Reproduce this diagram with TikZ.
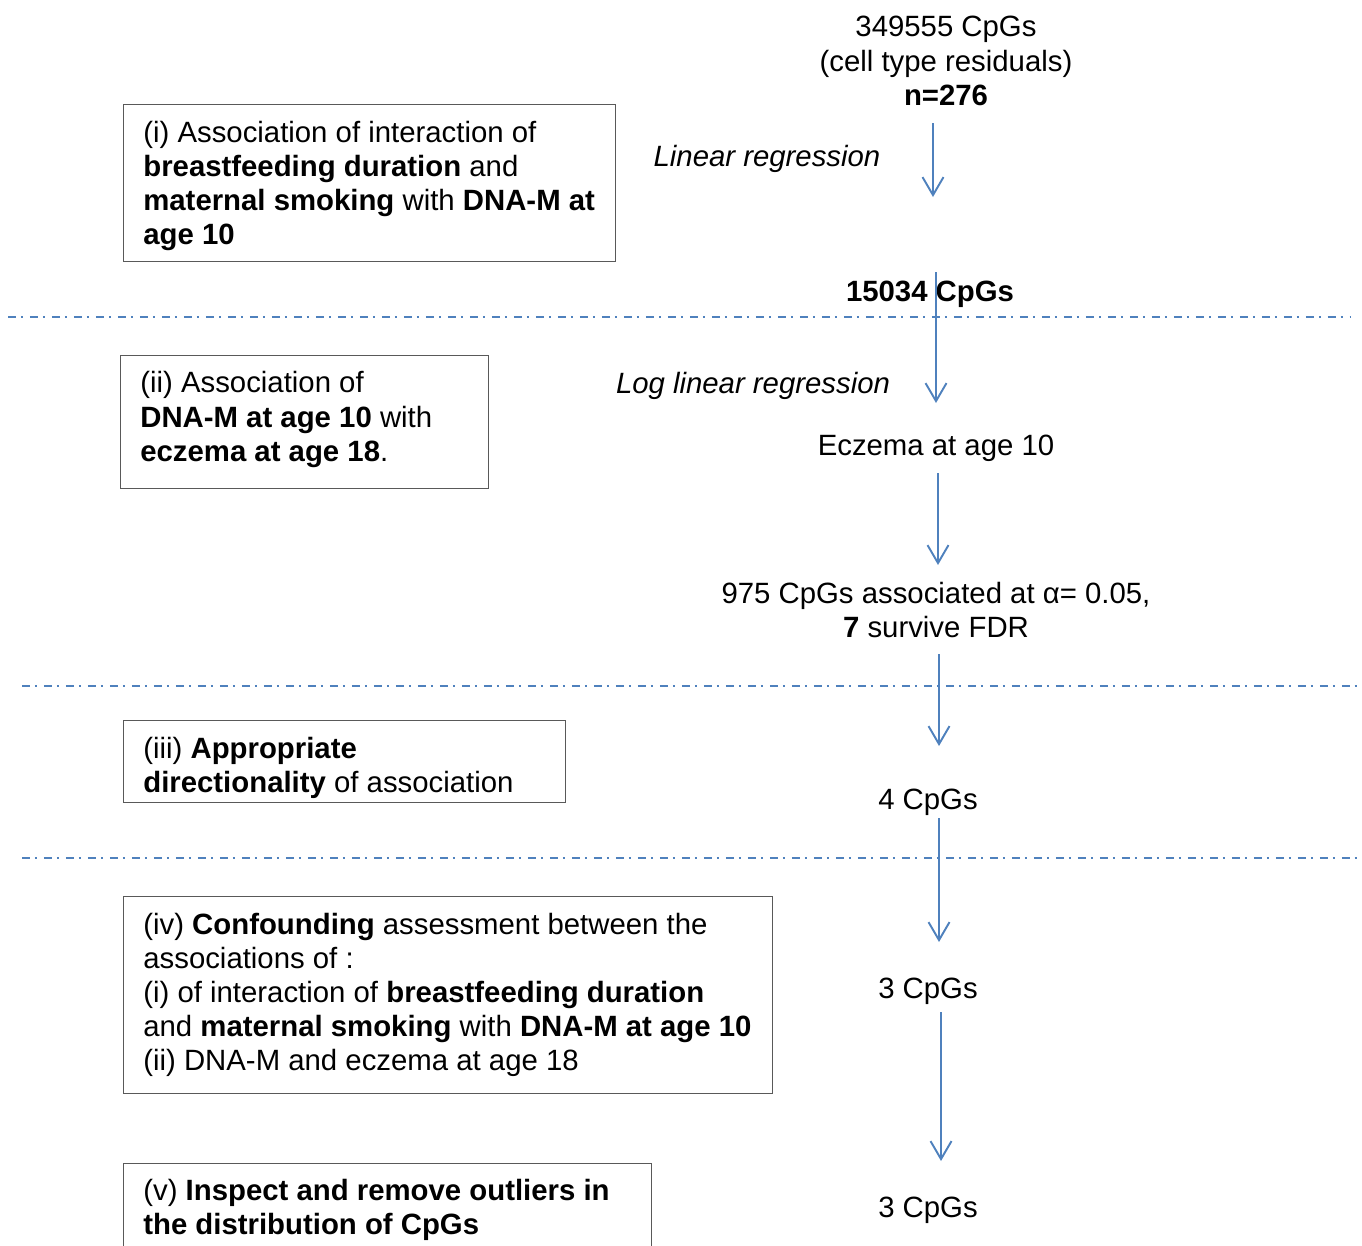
\documentclass[tikz,border=0pt]{standalone}
\usepackage{fontspec}
\setmainfont{Liberation Sans}
\usetikzlibrary{positioning, arrows.meta}

\definecolor{flowblue}{RGB}{79,129,189}
\tikzset{
  flow/.style={draw=flowblue, line width=1.1pt, -{Straight Barb[length=3.6mm, width=4.2mm]}},
  stagesep/.style={draw=flowblue, line width=1pt, dash pattern=on 1.6mm off 1mm on 0.4mm off 1.4mm},
  stagebox/.style={draw=black!65, line width=0.6pt, anchor=north west, inner sep=0pt},
  stagetext/.style={align=left, inner sep=0pt},
  count/.style={align=center, inner sep=0pt},
}

\begin{document}
\begin{tikzpicture}[x=0.02cm, y=-0.02cm, font=\fontsize{16.7}{19.45}\selectfont]
  \clip (0,0) rectangle (1362,1245);

  % stage separators
  \draw[stagesep] (8,317) coordinate (sepa) -- (1350,317) coordinate (sepb);
  \draw[stagesep] (22,686) coordinate (sepc) -- (1362,686) coordinate (sepd);
  \draw[stagesep] (22,858) coordinate (sepe) -- (1362,858) coordinate (sepf);

  % right column: counts
  \node[count] (start) at (946,61) {349555 CpGs\\(cell type residuals)\\\textbf{n=276}};
  \node[count] (linreg) at (767,159) {\textit{Linear regression}};
  \node[count] (cpgsa) at (930,294) {\textbf{15034 CpGs}};
  \node[count] (loglin) at (753,386) {\textit{Log linear regression}};
  \node[count] (eczema) at (936,448) {Eczema at age 10};
  \node[count] (cpgsb) at (936,610) {975 CpGs associated at α= 0.05,\\\textbf{7} survive FDR};
  \node[count] (cpgsc) at (928,802) {4 CpGs};
  \node[count] (cpgsd) at (928,991) {3 CpGs};
  \node[count] (cpgse) at (928,1210) {3 CpGs};

  % arrows
  \coordinate (aa) at (933,123);  \coordinate (ab) at (933,197);
  \coordinate (ac) at (936,272);  \coordinate (ad) at (936,403);
  \coordinate (ae) at (938,473);  \coordinate (af) at (938,565);
  \coordinate (ag) at (939,654);  \coordinate (ah) at (939,746);
  \coordinate (ai) at (939,818);  \coordinate (aj) at (939,942);
  \coordinate (ak) at (941,1012); \coordinate (al) at (941,1161);
  \draw[flow] (aa) -- (ab);
  \draw[flow] (ac) -- (ad);
  \draw[flow] (ae) -- (af);
  \draw[flow] (ag) -- (ah);
  \draw[flow] (ai) -- (aj);
  \draw[flow] (ak) -- (al);

  % left column: stages
  \node[stagebox, minimum width=9.84cm, minimum height=3.14cm] (boxi) at (123,104) {};
  \node[stagetext, right=0.4cm of boxi.west, yshift=-0.06cm] (txti) {(i) Association of interaction of\\\textbf{breastfeeding duration} and\\\textbf{maternal smoking} with \textbf{DNA-M at}\\\textbf{age 10}};

  \node[stagebox, minimum width=7.36cm, minimum height=2.66cm] (boxii) at (120,355) {};
  \node[stagetext, right=0.4cm of boxii.west, yshift=0.05cm] (txtii) {(ii) Association of\\\textbf{DNA-M at age 10} with\\\textbf{eczema at age 18}.};

  \node[stagebox, minimum width=8.84cm, minimum height=1.64cm] (boxiii) at (123,720) {};
  \node[stagetext, right=0.4cm of boxiii.west, yshift=-0.12cm] (txtiii) {(iii) \textbf{Appropriate}\\\textbf{directionality} of association};

  \node[stagebox, minimum width=12.98cm, minimum height=3.94cm] (boxiv) at (123,896) {};
  \node[stagetext, right=0.4cm of boxiv.west] (txtiv) {(iv) \textbf{Confounding} assessment between the\\associations of :\\(i) of interaction of \textbf{breastfeeding duration}\\and \textbf{maternal smoking} with \textbf{DNA-M at age 10}\\(ii) DNA-M and eczema at age 18};

  \node[stagebox, minimum width=10.56cm, minimum height=1.76cm] (boxv) at (123,1163) {};
  \node[stagetext, right=0.4cm of boxv.west, yshift=-0.05cm] (txtv) {(v) \textbf{Inspect and remove outliers in}\\\textbf{the distribution of CpGs}};
\end{tikzpicture}
\end{document}
